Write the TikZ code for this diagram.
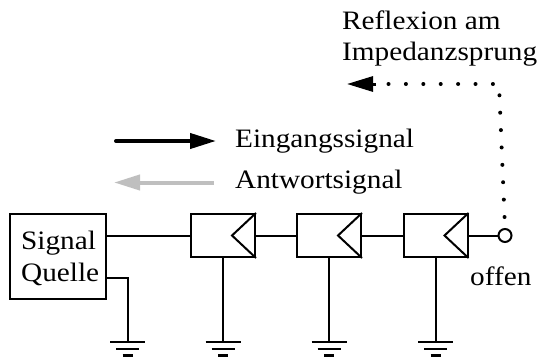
\documentclass[tikz,border=0pt]{standalone}
\usepackage{fontspec}
\setmainfont[FakeStretch=1.1]{Liberation Serif}
\usetikzlibrary{arrows.meta,calc}
\tikzset{
  x=1pt,y=-1pt,
  wire/.style={line width=2pt},
  boxnode/.style={draw,line width=2pt,minimum width=64pt,minimum height=43pt,inner sep=0pt},
  lbl/.style={anchor=base west,inner sep=0pt,font=\fontsize{26.6}{30}\selectfont},
  gndline/.style={line width=2pt},
  bigtip/.style={-{Triangle[length=26pt,width=15pt]}},
  dotline/.style={line width=4pt,line cap=round,dash pattern=on 0pt off 17.4pt,dash phase=6.4pt}
}
\newcommand{\gnd}[1]{%
  \draw[gndline] ($(#1)+(-17.5,0)$) -- ($(#1)+(17.5,0)$);
  \draw[gndline] ($(#1)+(-11.5,7)$) -- ($(#1)+(11.5,7)$);
  \draw[gndline,line width=3pt] ($(#1)+(-5,13.5)$) -- ($(#1)+(5,13.5)$);
}
\begin{document}
\begin{tikzpicture}
\useasboundingbox (0,0) rectangle (546,356);
% source
\node[boxnode,minimum width=96pt,minimum height=85pt] (src) at (58,256.5) {};
\node[lbl] (t1) at (21,249) {Signal};
\node[lbl] (t2) at (21,281) {Quelle};
% cells
\node[boxnode] (c1) at (223,235.5) {};
\node[boxnode] (c2) at (329,235.5) {};
\node[boxnode] (c3) at (435.5,235.5) {};
\foreach \n in {c1,c2,c3}
  \draw[wire,line join=miter] (\n.north east) -- ($(\n.east)+(-24,0)$) -- (\n.south east);
% open end
\node[draw,circle,line width=2pt,minimum size=13pt,inner sep=0pt] (op) at (505,235.5) {};
% grounds
\coordinate (g0) at (127.5,342);
\coordinate (g1) at (223,342);
\coordinate (g2) at (329,342);
\coordinate (g3) at (435.5,342);
\gnd{g0}\gnd{g1}\gnd{g2}\gnd{g3}
% wires
\draw[wire] (src.east |- c1.west) -- (c1.west);
\draw[wire] (c1.east) -- (c2.west);
\draw[wire] (c2.east) -- (c3.west);
\draw[wire] (c3.east) -- (op.west);
\draw[wire] (106,278) -| (g0);
\draw[wire] (c1.south) -- (g1);
\draw[wire] (c2.south) -- (g2);
\draw[wire] (c3.south) -- (g3);
% reflection
\coordinate (rc) at (499,84);
\coordinate (rtip) at (347,84);
\coordinate (rback) at (376,84);
\draw[dotline] (op.north) -- (rc) -- (rback);
\draw[bigtip,line width=3pt] (rback) -- (rtip);
% legend
\coordinate (a1) at (116,141);
\coordinate (a2) at (216,141);
\draw[bigtip,line width=4pt,line cap=round] (a1) -- (a2);
\coordinate (b1) at (214,182.5);
\coordinate (b2) at (114,182.5);
\draw[bigtip,line width=4pt,color=black!25] (b1) -- (b2);
\node[lbl] (t3) at (235,147) {Eingangssignal};
\node[lbl] (t4) at (235,188) {Antwortsignal};
\node[lbl] (t5) at (342,29) {Reflexion am};
\node[lbl] (t6) at (342,60) {Impedanzsprung};
\node[lbl] (t7) at (470,285) {offen};
\end{tikzpicture}
\end{document}
